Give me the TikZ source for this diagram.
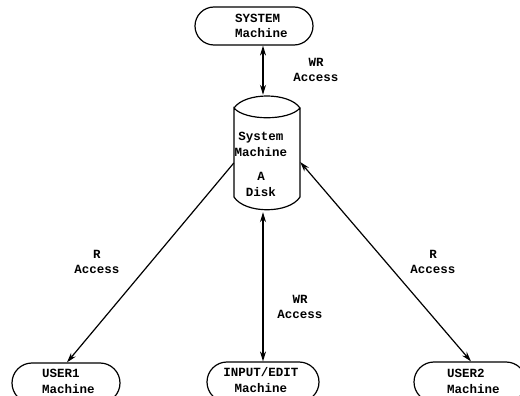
\documentclass[tikz,border=0pt]{standalone}
\usepackage{fontspec}
\setmonofont{Liberation Mono}
\usetikzlibrary{arrows.meta,shapes.misc}
\begin{document}
\begin{tikzpicture}[x=1pt,y=-1pt,
  >={Stealth[length=10pt,width=6pt]},
  txt/.style={font=\ttfamily\bfseries\fontsize{12.5}{15.5}\selectfont, inner sep=0pt},
  machine/.style={draw, line width=1.2pt, rounded rectangle, inner sep=0pt},
  conn/.style={line width=1.2pt}]
\useasboundingbox (0,0) rectangle (520,396);

% machines
\node[machine, minimum width=118pt, minimum height=38pt] (sys) at (254,26) {};
\node[txt, anchor=west, align=left] (systxt) at (235,26) {SYSTEM\\Machine};

\node[machine, minimum width=108pt, minimum height=40pt] (user1) at (66,383) {};
\node[txt, anchor=west, align=left] (user1txt) at (42,381.5) {USER1\\Machine};

\node[machine, minimum width=112pt, minimum height=40pt] (input) at (263,382) {};
\node[txt, align=center] (inputtxt) at (261,380) {INPUT/EDIT\\Machine};

\node[machine, minimum width=112pt, minimum height=40pt] (user2) at (470,382) {};
\node[txt, anchor=west, align=left] (user2txt) at (447,381.5) {USER2\\Machine};

% disk
\node[minimum width=66pt, minimum height=117pt, inner sep=0pt] (disk) at (267,153.5) {};
\draw[line width=1.2pt] (234,108) .. controls (245,92) and (289,92) .. (300,108)
  .. controls (289,121) and (245,121) .. (234,108) -- (234,197)
  .. controls (245,214) and (289,214) .. (300,197) -- (300,108);
\node[txt, align=center] (disktxt) at (261,164.5) {System\\Machine\\[9pt]A\\Disk};

% connectors
\draw[conn, <->] ([xshift=9pt]sys.south) -- ([xshift=-4pt]disk.north);
\draw[conn, <->] ([xshift=-4pt]disk.south) -- (input.north);
\draw[conn, ->] ([yshift=-9.5pt]disk.west) -- ([xshift=1pt]user1.north);
\draw[conn, <->] ([yshift=-8.5pt]disk.east) -- ([xshift=1pt]user2.north);

% labels
\node[txt, align=center] (l1) at (316,70) {WR\\Access};
\node[txt, align=center] (l2) at (97,262) {R\\Access};
\node[txt, align=center] (l3) at (300,307) {WR\\Access};
\node[txt, align=center] (l4) at (433,262) {R\\Access};
\end{tikzpicture}
\end{document}
